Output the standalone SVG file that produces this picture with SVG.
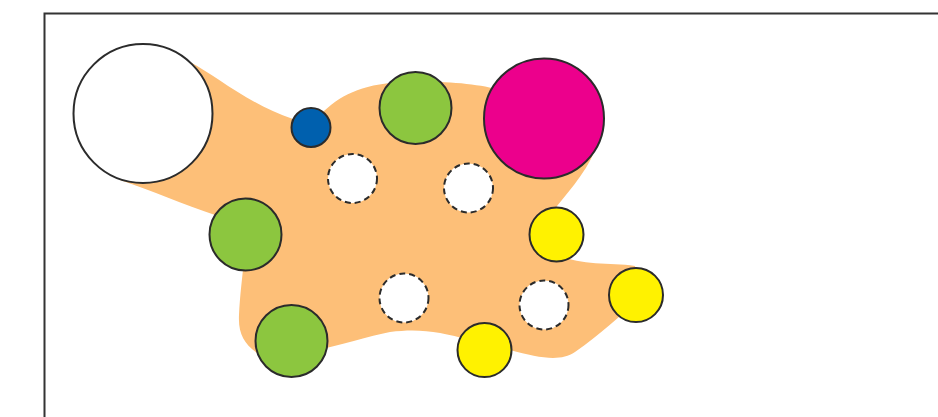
<svg xmlns="http://www.w3.org/2000/svg" width="938" height="417" viewBox="0 0 938 417">
<style>
.n{stroke:#2b2b2b;stroke-width:2}
.d{fill:#fff;stroke:#2b2b2b;stroke-width:2;stroke-dasharray:6 4}
.g{fill:#8cc63f}.y{fill:#fff200}
</style>
<rect width="938" height="417" fill="#fff"/>
<rect x="44.5" y="13.5" width="1000" height="1000" fill="none" stroke="#333" stroke-width="2"/>
<g id="blob">
<path fill="#fdbf78" d="M150,100 L190,62 C215,75 250,105 293,119 L320,115 C340,95 360,85 400,82 C440,80 480,84 500,90 L560,110 L595,150 C585,175 565,195 550,215 L560,255 C580,266 610,262 635,266 L640,300 C620,315 600,335 575,352 C560,362 540,358 510,350 L470,340 C440,332 420,328 390,332 C370,336 340,345 310,352 L260,355 C245,345 238,335 239,315 C240,295 242,280 244,260 L215,215 C185,205 150,190 120,180 Z"/>
</g>
<g id="connectors"></g>
<g id="big-white"><circle class="n" cx="143" cy="113.5" r="69.5" fill="#fff"/></g>
<g id="blue"><circle class="n" cx="311" cy="127.5" r="19.5" fill="#0060ae"/></g>
<g id="green-top"><circle class="n g" cx="415.5" cy="108" r="36"/></g>
<g id="magenta"><circle class="n" cx="544" cy="118.5" r="60" fill="#ec008c"/></g>
<g id="green-left"><circle class="n g" cx="245.5" cy="234.5" r="36"/></g>
<g id="green-bottom"><circle class="n g" cx="291.5" cy="341" r="36"/></g>
<g id="yellow-1"><circle class="n y" cx="556.5" cy="234.5" r="27"/></g>
<g id="yellow-2"><circle class="n y" cx="636" cy="295" r="27"/></g>
<g id="yellow-3"><circle class="n y" cx="484.5" cy="350" r="27"/></g>
<g id="dashed-1"><circle class="d" cx="352.5" cy="178.5" r="24.5"/></g>
<g id="dashed-2"><circle class="d" cx="468.5" cy="188" r="24.5"/></g>
<g id="dashed-3"><circle class="d" cx="404" cy="298" r="24.5"/></g>
<g id="dashed-4"><circle class="d" cx="544" cy="305" r="24.5"/></g>
</svg>
